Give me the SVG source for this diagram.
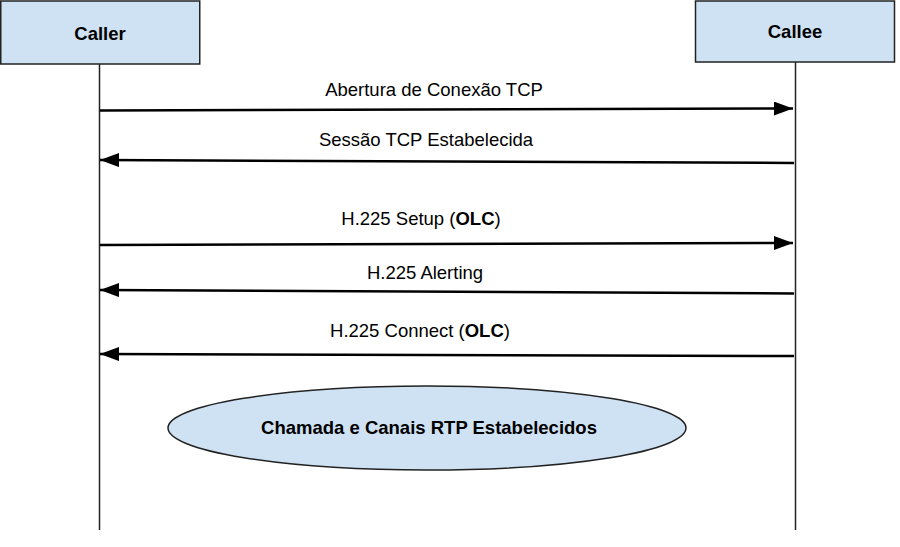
<svg xmlns="http://www.w3.org/2000/svg" width="900" height="547" viewBox="0 0 900 547">
<style>
.box{fill:#cfe2f3;stroke:#222;stroke-width:1.5}
.life{stroke:#222;stroke-width:1.5;fill:none}
.msg{stroke:#000;stroke-width:2.5;fill:none}
.t{font-family:"Liberation Sans",Arial,sans-serif;font-size:18.5px;fill:#000;text-anchor:middle}
.b{font-weight:bold}
</style>
<defs>
<marker id="ah" markerWidth="19" markerHeight="14" refX="19" refY="7" orient="auto" markerUnits="userSpaceOnUse">
<path d="M0,0 L19,7 L0,14 Z" fill="#000"/>
</marker>
</defs>
<rect width="900" height="547" fill="#fff"/>
<g id="caller">
<rect class="box" x="0.75" y="1" width="199" height="63"/>
<text class="t b" x="100" y="40">Caller</text>
<line class="life" x1="99.5" y1="64" x2="99.5" y2="530"/>
</g>
<g id="callee">
<rect class="box" x="695.5" y="1" width="199" height="61"/>
<text class="t b" x="795" y="38">Callee</text>
<line class="life" x1="795.5" y1="62" x2="795.5" y2="530"/>
</g>
<g id="connectors">
<line class="msg" x1="100" y1="110.5" x2="793" y2="108.5" marker-end="url(#ah)"/>
<line class="msg" x1="794" y1="163" x2="100" y2="160" marker-end="url(#ah)"/>
<line class="msg" x1="100" y1="245" x2="793" y2="243" marker-end="url(#ah)"/>
<line class="msg" x1="794" y1="293.5" x2="100" y2="290" marker-end="url(#ah)"/>
<line class="msg" x1="794" y1="356" x2="100" y2="354" marker-end="url(#ah)"/>
</g>
<g id="labels">
<text class="t" x="434" y="96">Abertura de Conexão TCP</text>
<text class="t" x="426" y="146">Sessão TCP Estabelecida</text>
<text class="t" x="421" y="225">H.225 Setup (<tspan class="b">OLC</tspan>)</text>
<text class="t" x="425" y="279">H.225 Alerting</text>
<text class="t" x="420" y="337">H.225 Connect (<tspan class="b">OLC</tspan>)</text>
</g>
<g id="state">
<ellipse cx="427" cy="428" rx="259" ry="42" fill="#cfe2f3" stroke="#222" stroke-width="1.5"/>
<text class="t b" x="429" y="434">Chamada e Canais RTP Estabelecidos</text>
</g>
</svg>
